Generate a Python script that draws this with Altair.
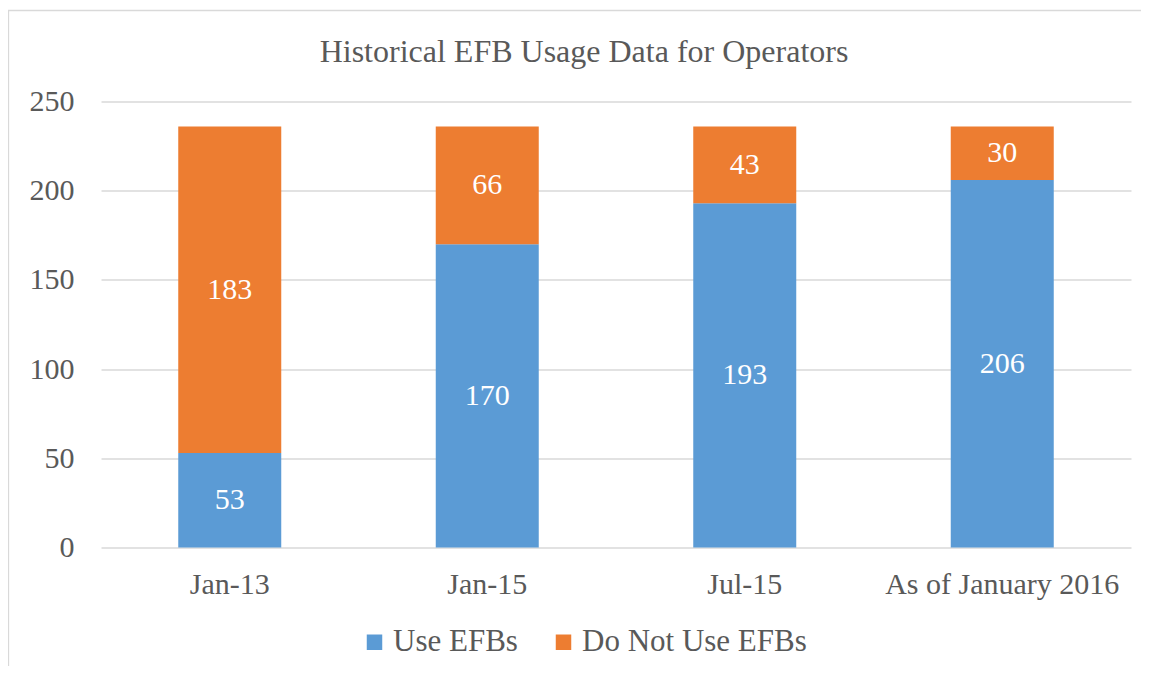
import altair as alt
import pandas as pd

categories = ["Jan-13", "Jan-15", "Jul-15", "As of January 2016"]
use_efbs = [53, 170, 193, 206]
not_use_efbs = [183, 66, 43, 30]
series = ["Use EFBs", "Do Not Use EFBs"]
colors = ["#5B9BD5", "#ED7D31"]

rows = []
for c, u, n in zip(categories, use_efbs, not_use_efbs):
    rows.append({"cat": c, "series": series[0], "value": u, "ord": 0})
    rows.append({"cat": c, "series": series[1], "value": n, "ord": 1})
df = pd.DataFrame(rows)

FONT = "Times New Roman, Liberation Serif, DejaVu Serif, serif"
GRAY = "#595959"

base = alt.Chart(df)

x_enc = alt.X("cat:N", sort=categories, title=None,
              scale=alt.Scale(paddingInner=0.6, paddingOuter=0.3),
              axis=alt.Axis(labelAngle=0, ticks=False, domain=False, grid=False,
                            labelFont=FONT, labelFontSize=30, labelColor=GRAY,
                            labelPadding=22, labelLimit=0))

bars = base.mark_bar().encode(
    x=x_enc,
    y=alt.Y("value:Q", stack="zero", title=None,
            scale=alt.Scale(domain=[0, 250], nice=False),
            axis=alt.Axis(values=[0, 50, 100, 150, 200, 250], ticks=False, domain=False,
                          grid=True, gridColor="#D9D9D9", gridWidth=1.3,
                          labelFont=FONT, labelFontSize=30, labelColor=GRAY,
                          labelPadding=27)),
    color=alt.Color("series:N", scale=alt.Scale(domain=series, range=colors),
                    legend=alt.Legend(title=None, orient="none", direction="horizontal",
                                      legendX=258, legendY=525,
                                      symbolType="square", symbolSize=240,
                                      symbolStrokeWidth=0, labelFont=FONT,
                                      labelFontSize=31, labelColor=GRAY,
                                      labelOffset=3, columnPadding=30, labelLimit=0)),
    order=alt.Order("ord:Q"),
)

labels = base.transform_stack(
    stack="value", groupby=["cat"], as_=["v0", "v1"], sort=[alt.SortField("ord")]
).transform_calculate(
    mid="(datum.v0 + datum.v1) / 2"
).mark_text(font=FONT, fontSize=30, color="white", baseline="middle").encode(
    x=alt.X("cat:N", sort=categories),
    y=alt.Y("mid:Q"),
    text=alt.Text("value:Q"),
)

frame = alt.Chart(pd.DataFrame({"a": [0]})).mark_rect(
    fill=None, stroke="#D9D9D9", strokeWidth=1.3
).encode(x=alt.value(-92.5), x2=alt.value(1100), y=alt.value(-91), y2=alt.value(700))

chart = alt.layer(frame, bars, labels).properties(
    width=1030, height=446,
    title=alt.TitleParams("Historical EFB Usage Data for Operators", font=FONT,
                          fontSize=32, fontWeight="normal", color=GRAY,
                          anchor="middle", frame="group", dx=-32,
                          baseline="alphabetic", offset=-84),
    padding={"left": 93, "top": 93.5, "right": 10, "bottom": 118},
    autosize="none",
).configure(
    font=FONT
).configure_axis(
    labelFont=FONT
).configure_legend(
    labelFont=FONT
).configure_text(
    font=FONT
).configure_view(stroke=None)

chart.save("out.html", embed_options={"renderer": "svg", "actions": False})
